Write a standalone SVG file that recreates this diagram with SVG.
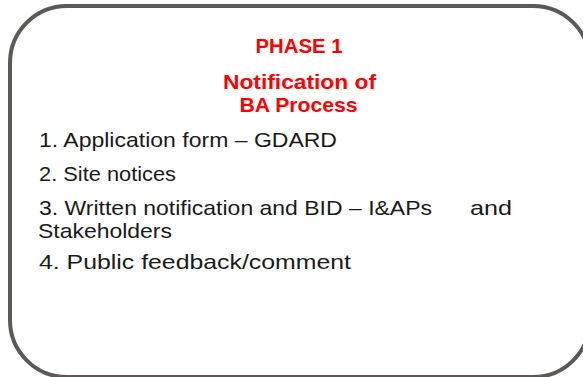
<svg xmlns="http://www.w3.org/2000/svg" width="583" height="377" viewBox="0 0 583 377">
<style>
.box{fill:#ffffff;stroke:#5e5959;stroke-width:4}
.title{font-family:"Liberation Sans",Arial,sans-serif;font-weight:bold;fill:#ff0000;font-size:20.5px;text-anchor:middle}
.body{font-family:"Liberation Sans",Arial,sans-serif;fill:#1a1a1a;font-size:21px}
</style>
<rect width="583" height="377" fill="#ffffff"/>
<g id="phase1">
<rect class="box" x="10" y="6" width="580" height="371" rx="57" ry="57"/>
<text class="title" x="299" y="52.5" textLength="87" lengthAdjust="spacingAndGlyphs">PHASE 1</text>
<text class="title" x="299.5" y="89" textLength="153" lengthAdjust="spacingAndGlyphs">Notification of</text>
<text class="title" x="298.5" y="112" textLength="118" lengthAdjust="spacingAndGlyphs">BA Process</text>
<text class="body" x="39" y="147" textLength="298" lengthAdjust="spacingAndGlyphs">1. Application form – GDARD</text>
<text class="body" x="39" y="181" textLength="137" lengthAdjust="spacingAndGlyphs">2. Site notices</text>
<text class="body" y="215"><tspan x="39" textLength="393" lengthAdjust="spacingAndGlyphs">3. Written notification and BID – I&amp;APs</tspan><tspan x="470" textLength="42" lengthAdjust="spacingAndGlyphs">and</tspan></text>
<text class="body" x="38" y="237.5" textLength="134" lengthAdjust="spacingAndGlyphs">Stakeholders</text>
<text class="body" x="39" y="269" textLength="312" lengthAdjust="spacingAndGlyphs">4. Public feedback/comment</text>
</g>
<g id="connectors"/>
</svg>
